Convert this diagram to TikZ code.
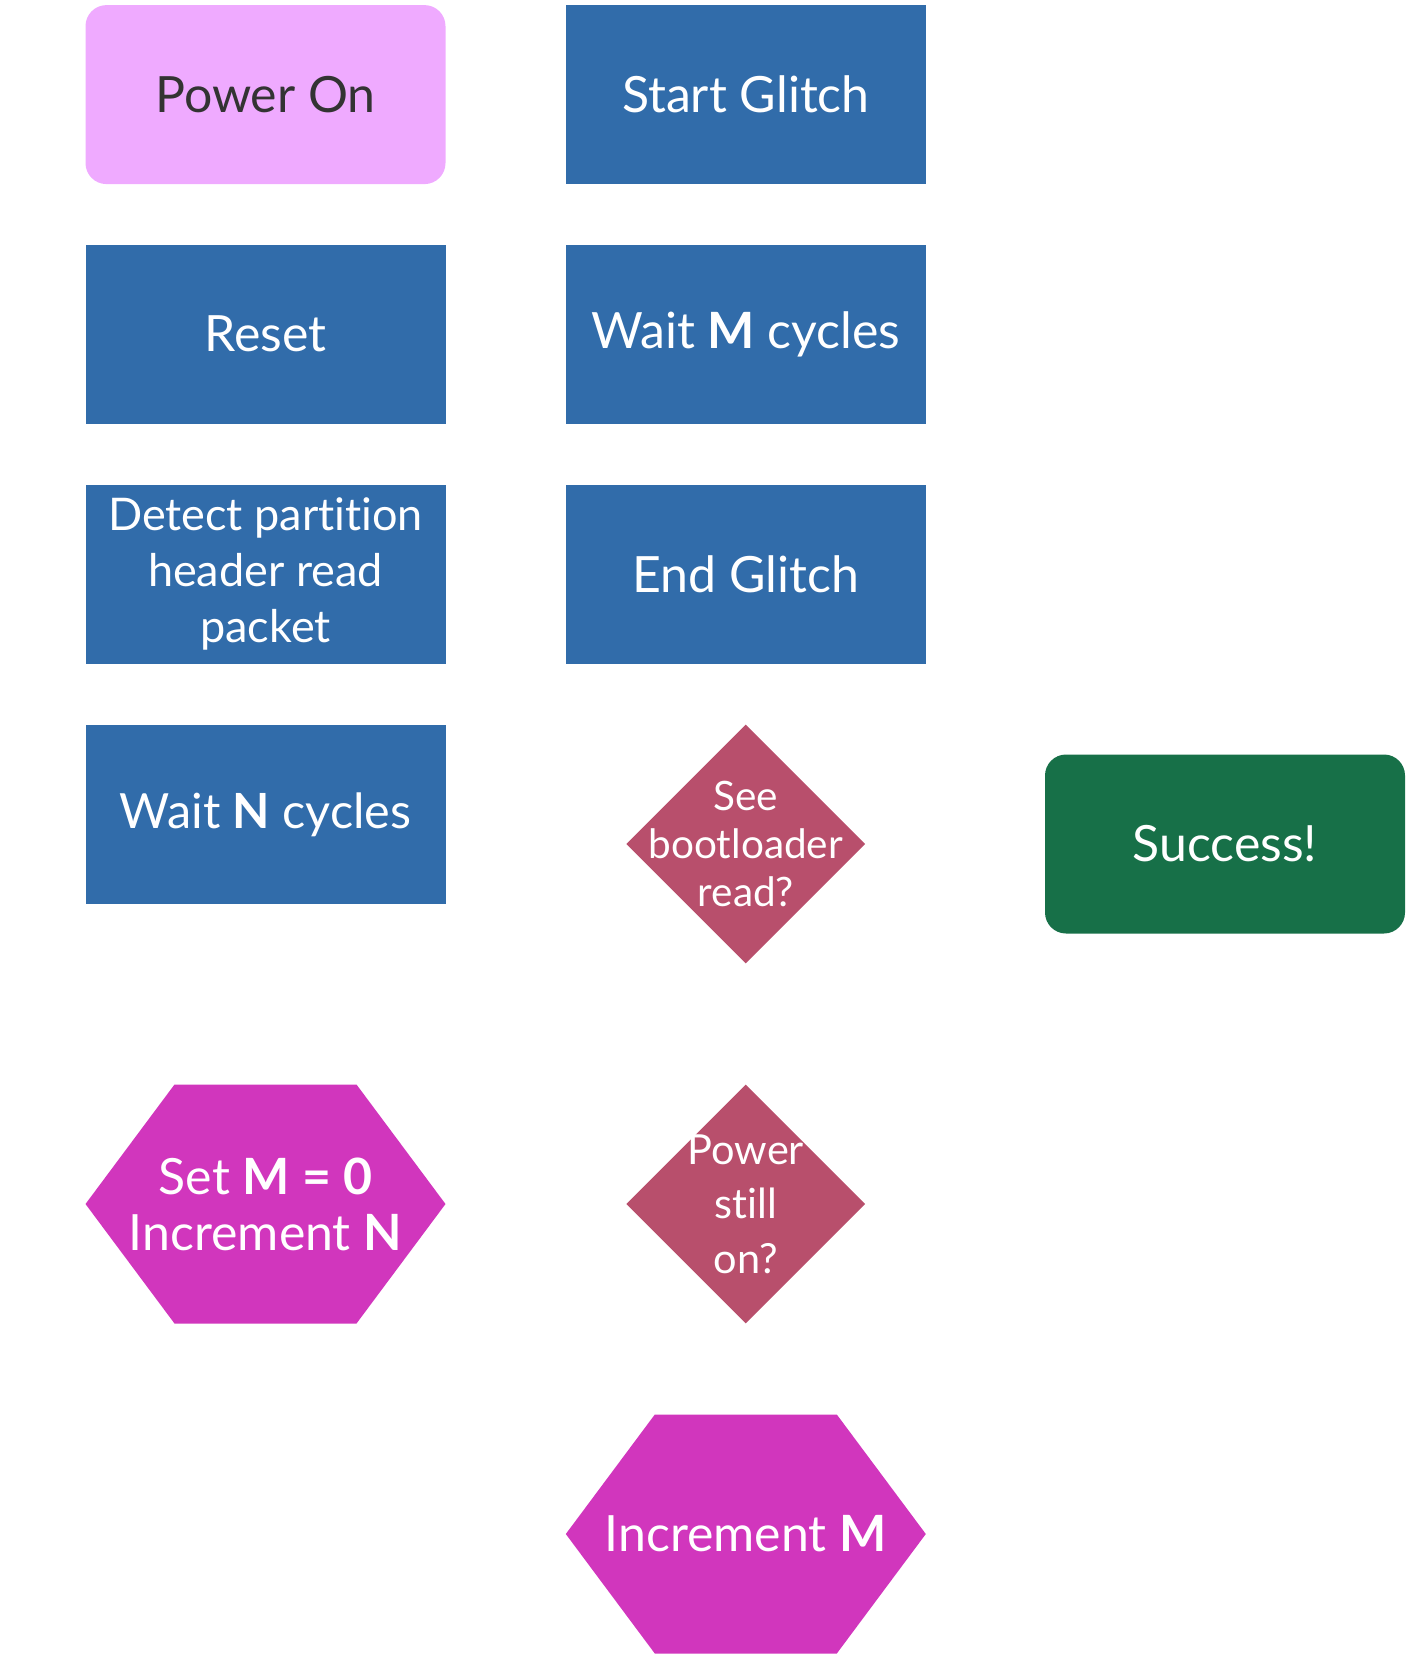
\documentclass[tikz,border=0pt]{standalone}
\usepackage{fontspec}
\setmainfont{Lato}[Ligatures={NoCommon}]
\usetikzlibrary{shapes.geometric}
\definecolor{stepblue}{HTML}{316CAA}
\definecolor{startpink}{HTML}{EFAAFF}
\definecolor{okgreen}{HTML}{177048}
\definecolor{askred}{HTML}{B84F6C}
\definecolor{hexmag}{HTML}{D136BD}
\newcommand\boxfont{\fontsize{50}{56}\selectfont}
\newcommand\askfont{\fontsize{40.5}{47.6}\selectfont}
\begin{document}
\begin{tikzpicture}[x=1pt,y=-1pt,
		stepbox/.style={rectangle,fill=stepblue,text=white,minimum width=360pt,minimum height=179pt,align=center,font=\boxfont},
		endbox/.style={stepbox,rounded corners=21pt},
		ask/.style={diamond,fill=askred,minimum width=239pt,minimum height=239pt,inner sep=0pt},
		asktext/.style={text=white,align=center,font=\askfont},
		hexbox/.style={rectangle,minimum width=360pt,minimum height=239pt,inner sep=0pt,text=white,align=center,font=\boxfont,
			path picture={\fill[hexmag] (path picture bounding box.west)
				-- ([xshift=89pt]path picture bounding box.north west) -- ([xshift=-89pt]path picture bounding box.north east)
				-- (path picture bounding box.east)
				-- ([xshift=-89pt]path picture bounding box.south east) -- ([xshift=89pt]path picture bounding box.south west) -- cycle;}}]
	\useasboundingbox (0,0) rectangle (1410,1659);
	\def\xa{265.5}\def\xb{745.8}\def\xc{1225}
	\node[endbox,fill=startpink,text={black!80}] (power) at (\xa,94.6) {Power On};
	\node[stepbox] (reset) at (\xa,334) {Reset};
	\node[stepbox,font=\fontsize{45}{56}\selectfont] (detect) at (\xa,574) {Detect partition\\header read\\packet};
	\node[stepbox,font=\fontsize{48.5}{56}\selectfont] (waitn) at (\xa,814.5) {Wait \textbf{N} cycles};
	\node[hexbox] (setm) at (\xa,1204) {Set \textbf{M = 0}\\Increment \textbf{N}};
	\node[stepbox] (start) at (\xb,94.6) {Start Glitch};
	\node[stepbox] (waitm) at (\xb,334) {Wait \textbf{M} cycles};
	\node[stepbox] (endg) at (\xb,574) {End Glitch};
	\node[ask,label={[asktext]center:See\\bootloader\\read?}] (seeboot) at (\xb,844) {};
	\node[ask,label={[asktext,font=\fontsize{41.5}{54.5}\selectfont]center:Power\\still\\on?}] (still) at (\xb,1204) {};
	\node[hexbox] (incm) at (\xb,1534) {Increment \textbf{M}};
	\node[endbox,fill=okgreen] (success) at (\xc,844) {Success!};
\end{tikzpicture}
\end{document}
